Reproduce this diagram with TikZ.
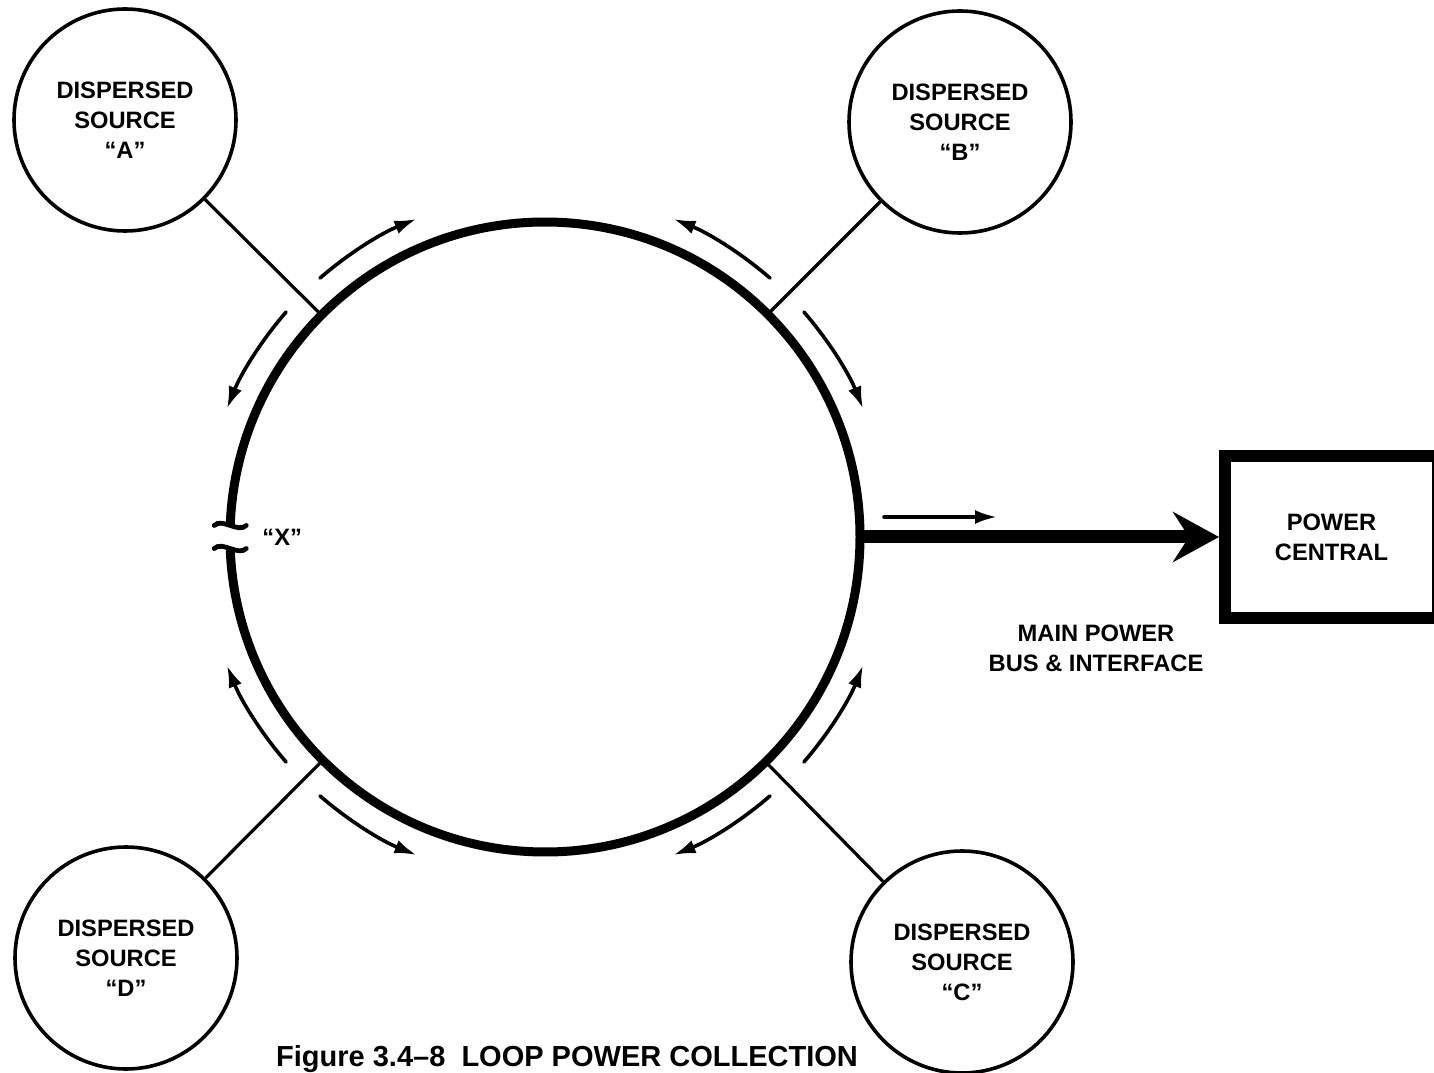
\documentclass[tikz,border=0pt]{standalone}
\usepackage{fontspec}
\setmainfont{Liberation Sans}
\usetikzlibrary{arrows.meta,positioning}

\begin{document}
\begin{tikzpicture}[x=0.5pt, y=0.5pt,
    lbl/.style={align=center, inner sep=0pt, font=\bfseries\fontsize{11.85pt}{15pt}\selectfont},
    source/.style={lbl, circle, draw, line width=1.8pt, minimum size=111pt},
    feed/.style={line width=1.6pt},
    flow/.style={line width=1.8pt, line cap=round, -{Latex[length=11pt, width=7pt]}},
    brk/.style={line width=2.4pt, line cap=round}]
    \useasboundingbox (0,0) rectangle (1434,1072);
    \node[circle, minimum size=315pt, inner sep=0pt, outer sep=0pt] (loop) at (545,535) {};
    \draw[line width=4.5pt] ([shift={(177.9:157.5pt)}]loop.center) arc[start angle=177.9, end angle=-177.9, radius=157.5pt];
    \coordinate (gap) at (loop.west);
    \coordinate (gapT) at ([shift={(177.9:157.5pt)}]loop.center);
    \coordinate (gapB) at ([shift={(182.1:157.5pt)}]loop.center);
    \draw[brk] ([xshift=-8pt]gapT) .. controls +(4pt,4pt) and +(-4pt,-4pt) .. ([xshift=8pt]gapT);
    \draw[brk] ([xshift=-8pt]gapB) .. controls +(4pt,4pt) and +(-4pt,-4pt) .. ([xshift=8pt]gapB);
    \node[lbl, right=16pt of gap] (xlbl) {“X”};
    \node[source] (srcA) at (125,952) {DISPERSED\\SOURCE\\“A”};
    \node[source] (srcB) at (960,950) {DISPERSED\\SOURCE\\“B”};
    \node[source] (srcC) at (962,110) {DISPERSED\\SOURCE\\“C”};
    \node[source] (srcD) at (126,114) {DISPERSED\\SOURCE\\“D”};
    \foreach \s in {A,B,C,D}
        \draw[feed] (src\s) -- (loop);
    \foreach \a in {45,135,225,315} {
        \draw[flow] ([shift={(\a+4:171.5pt)}]loop.center) arc[start angle=\a+4, end angle=\a+23, radius=171.5pt];
        \draw[flow] ([shift={(\a-4:171.5pt)}]loop.center) arc[start angle=\a-4, end angle=\a-23, radius=171.5pt];
    }
    \node[lbl, draw, line width=6pt, minimum width=106.5pt, minimum height=81pt] (central) at (1331.5,535) {POWER\\CENTRAL};
    \draw[line width=6.5pt, -{Stealth[length=23pt, width=25pt, inset=8pt]}] (loop.east) -- (central.west);
    \coordinate[above right=10pt and 12pt of loop.east] (busS);
    \coordinate[right=56.5pt of busS] (busE);
    \draw[flow] (busS) -- (busE);
    \node[lbl] (buslbl) at (1096,424) {MAIN POWER\\BUS \& INTERFACE};
    \node[anchor=base, font=\bfseries\fontsize{14.5pt}{17pt}\selectfont] (caption) at (567,6) {Figure 3.4–8\ \ LOOP POWER COLLECTION};
\end{tikzpicture}
\end{document}
